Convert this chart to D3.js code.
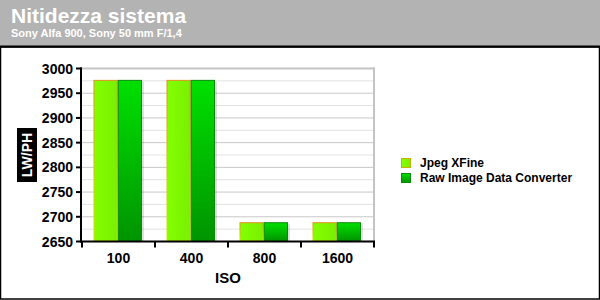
<!DOCTYPE html>
<html>
<head>
<meta charset="utf-8">
<script src="https://cdn.jsdelivr.net/npm/d3@7"></script>
<style>
  body { margin: 0; background: #fff; }
  text { font-family: "Liberation Sans", Arial, sans-serif; font-weight: bold; }
</style>
</head>
<body>
<script>
// data
var categories = ["100", "400", "800", "1600"];
var seriesNames = ["Jpeg XFine", "Raw Image Data Converter"];
var jpegValues = [2977, 2977, 2689, 2689];
var rawValues = [2977, 2977, 2689, 2689];
var yTicks = [2650, 2700, 2750, 2800, 2850, 2900, 2950, 3000];

var width = 600, height = 300;
var plot = {left: 82, right: 374, top: 68.5, bottom: 241.5};

var svg = d3.select("body").append("svg")
	.attr("width", width)
	.attr("height", height);

var defs = svg.append("defs");
var gLight = defs.append("linearGradient").attr("id", "gLight")
	.attr("x1", 0).attr("y1", 0).attr("x2", 1).attr("y2", 0);
gLight.append("stop").attr("offset", "0%").attr("stop-color", "#84ff00");
gLight.append("stop").attr("offset", "100%").attr("stop-color", "#78f000");
var gDark = defs.append("linearGradient").attr("id", "gDark")
	.attr("x1", 0).attr("y1", 0).attr("x2", 0).attr("y2", 1);
gDark.append("stop").attr("offset", "0%").attr("stop-color", "#00e000");
gDark.append("stop").attr("offset", "100%").attr("stop-color", "#009400");
var gBorderL = defs.append("linearGradient").attr("id", "gBorderL")
	.attr("x1", 0).attr("y1", 0).attr("x2", 0).attr("y2", 1);
gBorderL.append("stop").attr("offset", "0%").attr("stop-color", "#e09020");
gBorderL.append("stop").attr("offset", "100%").attr("stop-color", "#d8e000");

// header
svg.append("rect").attr("x", 0).attr("y", 0).attr("width", width).attr("height", 46)
	.attr("fill", "#b3b3b3");
svg.append("rect").attr("x", 0).attr("y", 45.5).attr("width", width).attr("height", 2)
	.attr("fill", "#000");
svg.append("text").attr("x", 11).attr("y", 23)
	.attr("fill", "#fff").style("font-size", "21px")
	.text("Nitidezza sistema");
svg.append("text").attr("x", 11).attr("y", 37)
	.attr("fill", "#fff").style("font-size", "11px")
	.text("Sony Alfa 900, Sony 50 mm F/1,4");

// frame
svg.append("rect").attr("x", 0.5).attr("y", 47).attr("width", width - 1).attr("height", height - 48)
	.attr("fill", "none").attr("stroke", "#000").attr("stroke-width", 1.5);

var x0 = d3.scaleBand().domain(categories).range([plot.left, plot.right]);
var x1 = d3.scaleBand().domain(seriesNames).range([11.5, 60]);
var y = d3.scaleLinear().domain([2650, 3000]).range([plot.bottom, plot.top]);

// grid
var grid = svg.append("g");
grid.selectAll("line")
	.data(d3.range(2675, 3000, 25))
	.enter().append("line")
	.attr("x1", plot.left).attr("x2", plot.right)
	.attr("y1", function(d) { return y(d); })
	.attr("y2", function(d) { return y(d); })
	.attr("stroke", function(d) { return d % 50 == 0 ? "#c8c8c8" : "#e2e2e2"; })
	.attr("stroke-width", 1);
grid.append("line")
	.attr("x1", plot.left).attr("x2", plot.right + 1)
	.attr("y1", y(3000)).attr("y2", y(3000))
	.attr("stroke", "#c4c4c4").attr("stroke-width", 2);
grid.append("line")
	.attr("x1", plot.right).attr("x2", plot.right)
	.attr("y1", y(3000) - 1).attr("y2", plot.bottom)
	.attr("stroke", "#c4c4c4").attr("stroke-width", 2);

// bars
var rows = categories.map(function(c, i) {
	return [{cat: c, s: seriesNames[0], v: jpegValues[i]},
	        {cat: c, s: seriesNames[1], v: rawValues[i]}];
});
var groups = svg.append("g").selectAll("g")
	.data(rows).enter().append("g")
	.attr("transform", function(d) { return "translate(" + x0(d[0].cat) + ",0)"; });

groups.selectAll(".shadow").data(function(d) { return d; }).enter().append("rect")
	.attr("x", function(d) { return x1(d.s) + 2; })
	.attr("y", function(d) { return y(d.v) + 2; })
	.attr("width", x1.bandwidth())
	.attr("height", function(d) { return plot.bottom - y(d.v) - 2; })
	.attr("fill", "#000").attr("opacity", 0.12);

groups.selectAll(".bar").data(function(d) { return d; }).enter().append("rect")
	.attr("x", function(d) { return x1(d.s) + 0.5; })
	.attr("y", function(d) { return y(d.v) + 0.5; })
	.attr("width", x1.bandwidth() - 1)
	.attr("height", function(d) { return plot.bottom - y(d.v) - 1; })
	.attr("fill", function(d, i) { return i == 0 ? "url(#gLight)" : "url(#gDark)"; })
	.attr("stroke", function(d, i) { return i == 0 ? "url(#gBorderL)" : "#0a8a0a"; })
	.attr("stroke-width", 1);

// axes
var yAxis = svg.append("g");
yAxis.append("line").attr("x1", plot.left - 1).attr("x2", plot.left - 1)
	.attr("y1", plot.top - 1).attr("y2", plot.bottom + 1)
	.attr("stroke", "#000").attr("stroke-width", 2);
yAxis.selectAll(".tick").data(yTicks).enter().append("line")
	.attr("x1", plot.left - 6).attr("x2", plot.left)
	.attr("y1", function(d) { return y(d); }).attr("y2", function(d) { return y(d); })
	.attr("stroke", "#000").attr("stroke-width", 2);
yAxis.selectAll("text").data(yTicks).enter().append("text")
	.attr("x", plot.left - 9)
	.attr("y", function(d) { return y(d) + 5; })
	.attr("text-anchor", "end")
	.style("font-size", "14px")
	.text(function(d) { return d; });

var xAxis = svg.append("g");
xAxis.append("line").attr("x1", plot.left - 2).attr("x2", plot.right + 1)
	.attr("y1", plot.bottom).attr("y2", plot.bottom)
	.attr("stroke", "#000").attr("stroke-width", 2);
xAxis.selectAll(".tick").data(categories.concat([null])).enter().append("line")
	.attr("x1", function(d) { return d == null ? plot.right : x0(d); })
	.attr("x2", function(d) { return d == null ? plot.right : x0(d); })
	.attr("y1", plot.bottom).attr("y2", plot.bottom + 6)
	.attr("stroke", "#000").attr("stroke-width", 2);
xAxis.selectAll("text").data(categories).enter().append("text")
	.attr("x", function(d) { return x0(d) + x0.bandwidth() / 2; })
	.attr("y", 263)
	.attr("text-anchor", "middle")
	.style("font-size", "14px")
	.text(function(d) { return d; });
svg.append("text").attr("x", 228).attr("y", 283)
	.attr("text-anchor", "middle")
	.style("font-size", "15px")
	.text("ISO");

// y title
var yt = svg.append("g").attr("transform", "translate(27,155) rotate(-90)");
yt.append("rect").attr("x", -27).attr("y", -10).attr("width", 54).attr("height", 20)
	.attr("fill", "#000");
yt.append("text").attr("x", 0).attr("y", 5)
	.attr("text-anchor", "middle").attr("fill", "#fff")
	.style("font-size", "14px")
	.text("LW/PH");

// legend
var legend = svg.append("g").selectAll("g")
	.data(seriesNames).enter().append("g")
	.attr("transform", function(d, i) { return "translate(401," + (158 + i * 15) + ")"; });
legend.append("rect").attr("x", 0.5).attr("y", 0.5).attr("width", 9).attr("height", 9)
	.attr("fill", function(d, i) { return i == 0 ? "url(#gLight)" : "url(#gDark)"; })
	.attr("stroke", function(d, i) { return i == 0 ? "#c8b000" : "#0a8a0a"; });
legend.append("text").attr("x", 19).attr("y", 9)
	.style("font-size", "12px")
	.text(function(d) { return d; });
</script>
</body>
</html>
